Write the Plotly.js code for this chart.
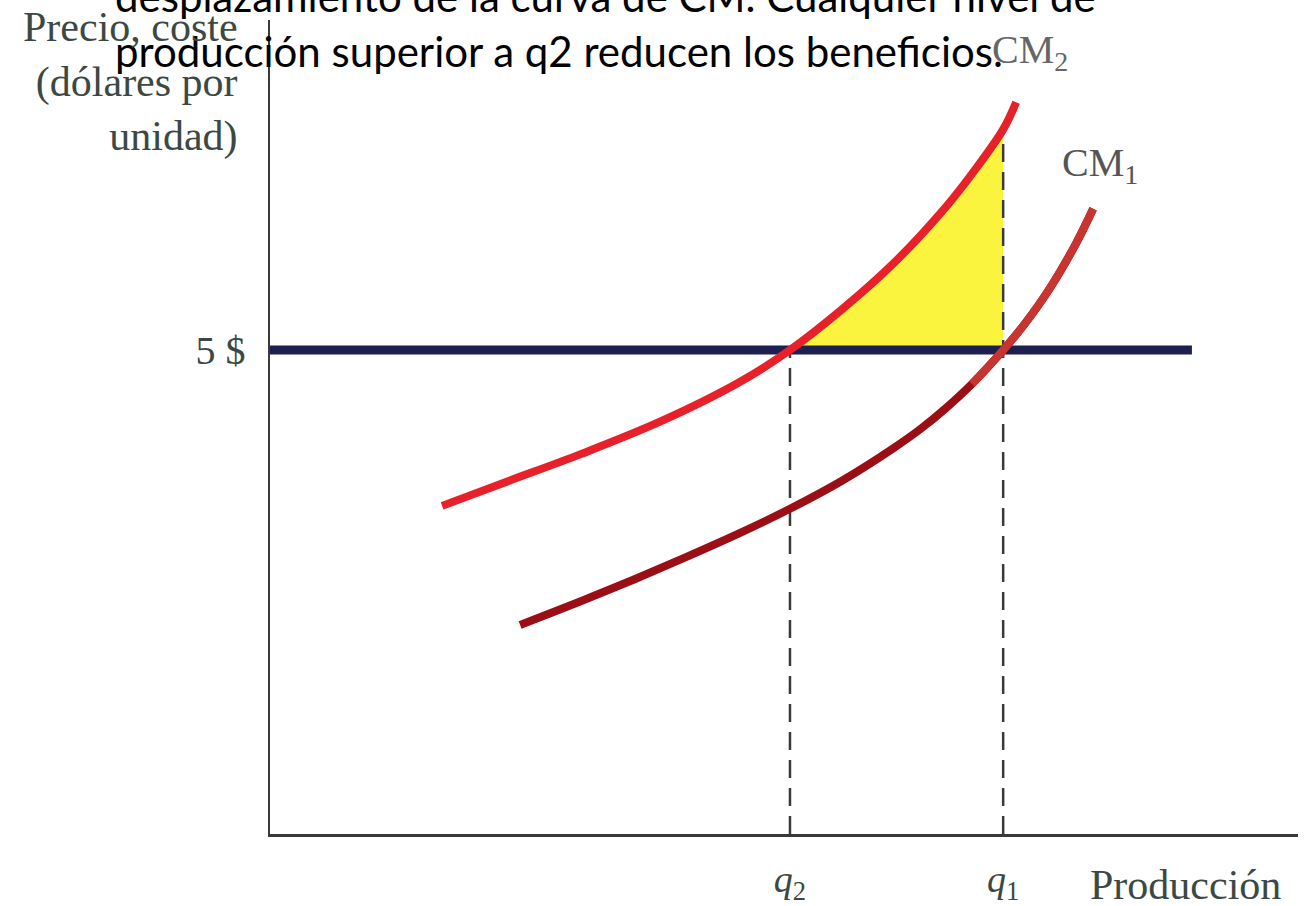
<!DOCTYPE html>
<html>
<head>
<meta charset="utf-8">
<script src="https://cdn.plot.ly/plotly-3.0.1.min.js"></script>
<style>html,body{margin:0;padding:0;background:#fff;}#chart{width:1311px;height:906px;}</style>
</head>
<body>
<div id="chart"></div>
<script>
// ---- data ----
const price = 5;
const q2 = 10.0;
const q1 = 14.1;
const cm2X = [3.31, 4.5, 6.0, 7.5, 9.0, 10.0, 11.0, 12.0, 13.0, 13.5, 14.1, 14.35];
const cm2Y = [3.39, 3.63, 3.93, 4.26, 4.66, 5.0, 5.42, 5.90, 6.48, 6.82, 7.28, 7.56];
const cm1X = [4.81, 6.0, 7.0, 8.0, 9.0, 10.0, 11.0, 12.0, 12.5, 13.0, 13.5, 14.1, 14.5, 15.0, 15.5, 15.83];
const cm1Y = [2.16, 2.41, 2.63, 2.86, 3.10, 3.36, 3.65, 3.99, 4.18, 4.40, 4.65, 5.0, 5.26, 5.64, 6.10, 6.46];
const priceLineX = [0, 17.73];
const xTickVals = [q2, q1];
const xTickText = ['<i>q</i><sub>2</sub>', '<i>q</i><sub>1</sub>'];
const yTickVals = [price];
const yTickText = ['5 $'];
const titleText = 'desplazamiento de la curva de CM. Cualquier nivel de<br>producción superior a q2 reducen los beneficios.';
const yTitleText = 'Precio, coste<br>(dólares por<br>unidad)';
const xTitleText = 'Producción';
const cm1Label = 'CM<sub>1</sub>';
const cm2Label = 'CM<sub>2</sub>';

// ---- derived ----
const iq2 = cm2X.indexOf(q2), iq1 = cm2X.indexOf(q1);
const fillX = cm2X.slice(iq2, iq1 + 1);
const fillY = cm2Y.slice(iq2, iq1 + 1);
const cm2AtQ1 = cm2Y[iq1];
const k1 = cm1X.indexOf(q1);

const serif = 'Liberation Serif, Times New Roman, serif';
const labelColor = '#3c4843';
const dashStyle = {color: '#3a3a3a', width: 2.5, dash: '18px,10px'};

const traces = [
  {x: [q2, q1], y: [price, price], mode: 'lines', line: {width: 0}, hoverinfo: 'skip', showlegend: false},
  {x: fillX, y: fillY, mode: 'lines', line: {width: 0, shape: 'spline'}, fill: 'tonexty', fillcolor: '#fbf43e', hoverinfo: 'skip', showlegend: false},
  {x: [q2, q2], y: [0, price], mode: 'lines', line: dashStyle, showlegend: false},
  {x: [q1, q1], y: [0, cm2AtQ1], mode: 'lines', line: dashStyle, showlegend: false},
  {x: priceLineX, y: [price, price], mode: 'lines', line: {color: '#1c1f4f', width: 9}, showlegend: false},
  {x: cm1X, y: cm1Y, mode: 'lines', line: {color: '#9b0e16', width: 8, shape: 'spline'}, showlegend: false},
  {x: cm1X.slice(k1 - 1), y: cm1Y.slice(k1 - 1), mode: 'lines', line: {color: '#c8342f', width: 8, shape: 'spline'}, showlegend: false},
  {x: cm2X, y: cm2Y, mode: 'lines', line: {color: '#e8202a', width: 8, shape: 'spline'}, showlegend: false}
];

const layout = {
  width: 1311, height: 906,
  margin: {l: 270, r: 13, t: 20, b: 72},
  paper_bgcolor: '#ffffff', plot_bgcolor: '#ffffff',
  showlegend: false,
  title: {text: titleText, x: 115 / 1311, xanchor: 'left', xref: 'container', y: 1 - 12 / 906, yanchor: 'bottom', yref: 'container',
          font: {family: 'Lato, Open Sans, sans-serif', size: 42, color: '#000000'}},
  xaxis: {range: [0, 19.77], showgrid: false, zeroline: false, showline: true, linecolor: '#3a3a3a', linewidth: 2.5,
          tickvals: xTickVals, ticktext: xTickText, ticks: '', ticklabelstandoff: 10,
          tickfont: {family: serif, size: 38, color: labelColor}},
  yaxis: {range: [0, 8.41], showgrid: false, zeroline: false, showline: true, linecolor: '#3a3a3a', linewidth: 2.5,
          tickvals: yTickVals, ticktext: yTickText, ticks: '', ticklabelstandoff: 14,
          tickfont: {family: serif, size: 40, color: labelColor}},
  annotations: [
    {text: cm2Label, xref: 'paper', yref: 'paper', x: (990 - 270) / 1028, y: (834 - 52) / 814, xanchor: 'left', yanchor: 'middle', showarrow: false,
     font: {family: serif, size: 40, color: '#666666'}},
    {text: cm1Label, xref: 'paper', yref: 'paper', x: (1060 - 270) / 1028, y: (834 - 165) / 814, xanchor: 'left', yanchor: 'middle', showarrow: false,
     font: {family: serif, size: 40, color: '#555555'}},
    {text: yTitleText, xref: 'paper', yref: 'paper', x: (240 - 270) / 1028, y: (834 - 2) / 814, xanchor: 'right', yanchor: 'top', align: 'right', showarrow: false,
     font: {family: serif, size: 42, color: labelColor}},
    {text: xTitleText, xref: 'paper', yref: 'paper', x: (1088 - 270) / 1028, y: (834 - 885) / 814, xanchor: 'left', yanchor: 'middle', showarrow: false,
     font: {family: serif, size: 42, color: labelColor}}
  ]
};

Plotly.newPlot('chart', traces, layout, {displayModeBar: false, staticPlot: true});
</script>
</body>
</html>
